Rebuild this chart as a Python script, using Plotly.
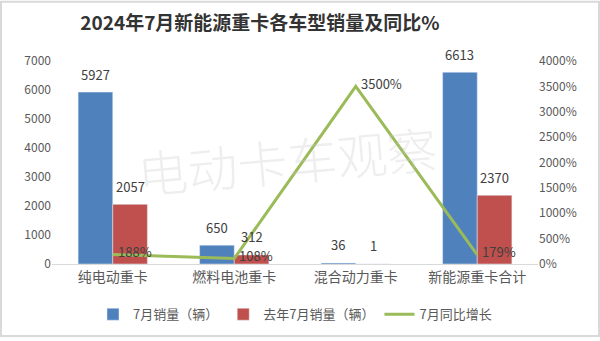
import plotly.graph_objects as go

categories = ["纯电动重卡", "燃料电池重卡", "混合动力重卡", "新能源重卡合计"]
sales_2024 = [5927, 650, 36, 6613]
sales_2023 = [2057, 312, 1, 2370]
yoy_pct = [188, 108, 3500, 179]

W, H = 600, 341
ml, mr, mt, mb = 52, 62, 61, 74
pw, ph = W - ml - mr, H - mt - mb
bargap = 0.43
bar_px = pw / len(categories) * (1 - bargap) / 2

font = "Noto Sans CJK SC"
fig = go.Figure()
fig.add_trace(go.Bar(
    x=categories, y=sales_2024, name="7月销量（辆）",
    marker=dict(color="#4F81BD"),
))
fig.add_trace(go.Bar(
    x=categories, y=sales_2023, name="去年7月销量（辆）",
    marker=dict(color="#C0504D"),
))
fig.add_trace(go.Scatter(
    x=categories, y=yoy_pct, name="7月同比增长", yaxis="y2",
    mode="lines", line=dict(color="#9BBB59", width=3),
))

annotations = [dict(text="电动卡车观察", xref="paper", yref="paper",
                    x=(287 - ml) / pw, y=(mt + ph - 160) / ph,
                    showarrow=False, textangle=-5,
                    font=dict(size=50, color="rgba(200,200,200,0.3)",
                              family=font, weight=300))]
for series, sign in ((sales_2024, -1), (sales_2023, 1)):
    for c, v in zip(categories, series):
        annotations.append(dict(
            text=str(v), x=c, y=v, xref="x", yref="y", showarrow=False,
            xanchor="center", yanchor="middle",
            xshift=sign * bar_px / 2, yshift=18,
            font=dict(size=13, color="#404040", family=font)))
for c, v in zip(categories, yoy_pct):
    annotations.append(dict(
        text=f"{v}%", x=c, y=v, xref="x", yref="y2", showarrow=False,
        xanchor="left", yanchor="middle", xshift=3, yshift=3,
        font=dict(size=13, color="#404040", family=font)))

fig.update_layout(
    width=W, height=H,
    margin=dict(l=ml, r=mr, t=mt, b=mb),
    paper_bgcolor="white", plot_bgcolor="white",
    font=dict(family=font, color="#595959", size=12),
    barmode="group", bargap=bargap, bargroupgap=0,
    title=dict(text="<b>2024年7月新能源重卡各车型销量及同比%</b>",
               xref="container", x=260 / W, xanchor="center",
               y=1 - 23 / H, yanchor="middle",
               font=dict(size=19, color="#333333", family=font)),
    xaxis=dict(showline=True, linecolor="#D9D9D9", linewidth=1,
               tickfont=dict(size=14, color="#595959"), ticks=""),
    yaxis=dict(range=[0, 7000], dtick=1000, showgrid=False, zeroline=False,
               tickfont=dict(size=12, color="#595959")),
    yaxis2=dict(range=[0, 4000], dtick=500, overlaying="y", side="right",
                ticksuffix="%", showgrid=False, zeroline=False,
                tickfont=dict(size=12, color="#595959")),
    legend=dict(orientation="h", x=0.5, xanchor="center",
                y=(mt + ph - 318) / ph, yanchor="middle",
                font=dict(size=13, color="#595959"), traceorder="normal"),
    showlegend=True,
    annotations=annotations,
    shapes=[dict(type="rect", xref="paper", yref="paper",
                 x0=(1 - ml) / pw, x1=(W - 1 - ml) / pw,
                 y0=(mt + ph - (H - 1)) / ph, y1=(mt + ph - 1) / ph,
                 line=dict(color="#D9D9D9", width=2), layer="below")],
)

fig.write_html("out.html")
